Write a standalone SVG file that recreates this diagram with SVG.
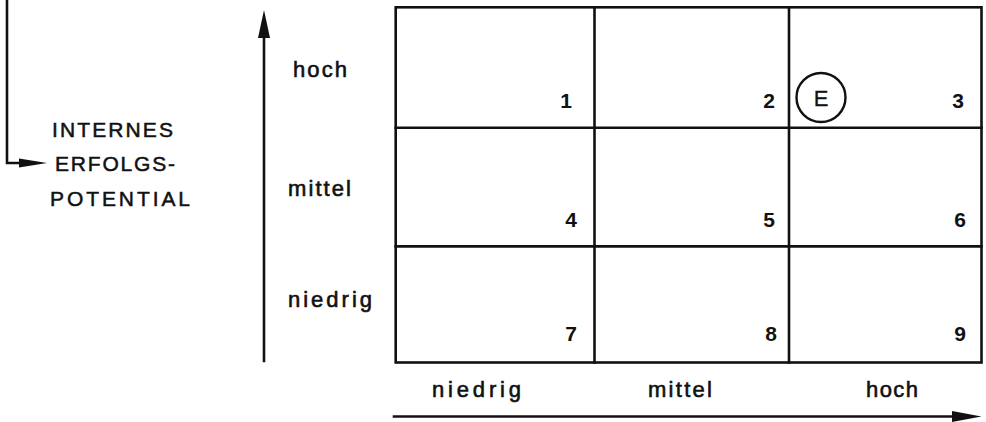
<svg xmlns="http://www.w3.org/2000/svg" width="986" height="422" viewBox="0 0 986 422">
<style>
.ln{stroke:#111;stroke-width:2.6;fill:none;stroke-linecap:square}
.ar{fill:#111;stroke:none}
.lb{font-family:"Liberation Sans",Arial,sans-serif;font-size:22px;fill:#111;stroke:#111;stroke-width:0.6}
.cap{font-family:"Liberation Sans",Arial,sans-serif;font-size:21px;fill:#111;stroke:#111;stroke-width:0.5}
.num{font-family:"Liberation Sans",Arial,sans-serif;font-size:21px;font-weight:bold;fill:#111;text-anchor:end}
</style>
<rect width="986" height="422" fill="#fff"/>
<g id="grid">
<rect class="ln" x="395.7" y="7.3" width="585.8" height="355.2"/>
<line class="ln" x1="594.5" y1="7.3" x2="594.5" y2="362.5"/>
<line class="ln" x1="789" y1="7.3" x2="789" y2="362.5"/>
<line class="ln" x1="395.7" y1="127.8" x2="981.5" y2="127.8"/>
<line class="ln" x1="395.7" y1="246.4" x2="981.5" y2="246.4"/>
</g>
<g id="cell-numbers">
<text class="num" x="572" y="107.5">1</text>
<text class="num" x="775" y="107.5">2</text>
<text class="num" x="964" y="107.5">3</text>
<text class="num" x="577" y="227">4</text>
<text class="num" x="775" y="227">5</text>
<text class="num" x="966" y="227">6</text>
<text class="num" x="577" y="340.5">7</text>
<text class="num" x="777" y="340.5">8</text>
<text class="num" x="966" y="340.5">9</text>
</g>
<g id="marker-E">
<circle cx="821" cy="97.5" r="24.5" fill="none" stroke="#111" stroke-width="2.4"/>
<text class="lb" x="821" y="105.5" text-anchor="middle" style="stroke-width:0.3">E</text>
</g>
<g id="connectors">
<polyline class="ln" points="7,-2 7,163 24,163"/>
<polygon class="ar" points="19,158.5 47,163 19,167.5"/>
<line class="ln" x1="264" y1="361" x2="264" y2="34"/>
<polygon class="ar" points="258,38 264,10 270,38"/>
<line class="ln" x1="394" y1="416.5" x2="957" y2="416.5"/>
<polygon class="ar" points="952,411 981.5,416.5 952,422"/>
</g>
<g id="title">
<text class="cap" x="52" y="137" textLength="121" lengthAdjust="spacing">INTERNES</text>
<text class="cap" x="55" y="171" textLength="120" lengthAdjust="spacing">ERFOLGS-</text>
<text class="cap" x="50" y="206" textLength="140" lengthAdjust="spacing">POTENTIAL</text>
</g>
<g id="y-labels">
<text class="lb" x="293" y="77" textLength="54" lengthAdjust="spacing">hoch</text>
<text class="lb" x="288" y="196" textLength="63" lengthAdjust="spacing">mittel</text>
<text class="lb" x="288" y="307" textLength="84" lengthAdjust="spacing">niedrig</text>
</g>
<g id="x-labels">
<text class="lb" x="432" y="397" textLength="89" lengthAdjust="spacing">niedrig</text>
<text class="lb" x="648" y="397" textLength="64" lengthAdjust="spacing">mittel</text>
<text class="lb" x="866" y="397" textLength="52" lengthAdjust="spacing">hoch</text>
</g>
</svg>
